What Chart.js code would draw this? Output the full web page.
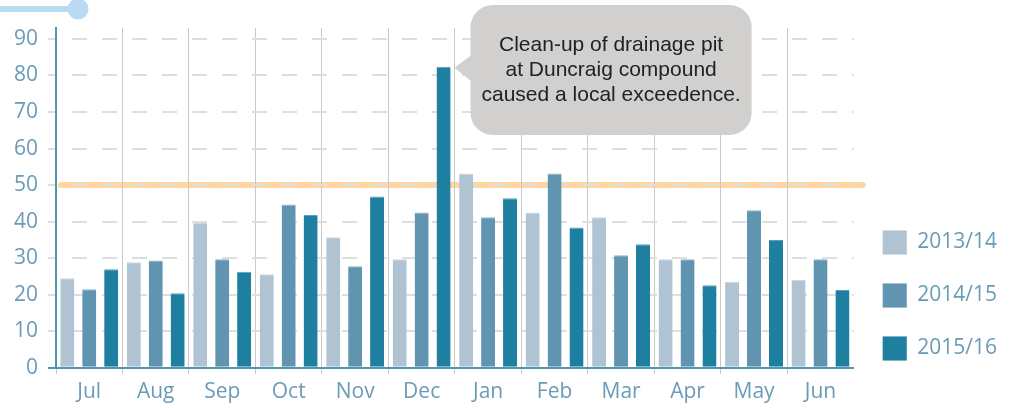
<!DOCTYPE html>
<html>
<head>
<meta charset="utf-8">
<script src="https://cdn.jsdelivr.net/npm/chart.js@4.4.0/dist/chart.umd.min.js"></script>
<style>
  html, body { margin: 0; padding: 0; background: #fff; overflow: hidden; }
  #wrap { width: 1036px; height: 408px; }
</style>
</head>
<body>
<div id="wrap"><canvas id="chart" width="1036" height="408"></canvas></div>
<script>
// monthly values, financial years Jul..Jun
const months = ['Jul', 'Aug', 'Sep', 'Oct', 'Nov', 'Dec', 'Jan', 'Feb', 'Mar', 'Apr', 'May', 'Jun'];
const fy1314 = [24.5, 28.9, 39.6, 25.6, 35.7, 29.7, 53.2, 42.5, 41.2, 29.7, 23.5, 24.0];
const fy1415 = [21.5, 29.4, 29.7, 44.7, 27.8, 42.5, 41.2, 53.2, 30.8, 29.7, 43.1, 29.7];
const fy1516 = [27.0, 20.4, 26.3, 41.8, 46.9, 82.4, 46.4, 38.4, 33.8, 22.6, 35.0, 21.3];
const seriesNames = ['2013/14', '2014/15', '2015/16'];
const limitValue = 50;
const noteIndex = 5; // Dec 2015/16
const noteLines = ['Clean-up of drainage pit', 'at Duncraig compound', 'caused a local exceedence.'];

const axisBlue = '#4f97b0';
const labelBlue = '#6a9bb7';

// threshold band, top-left slider and the callout bubble
const decorPlugin = {
  id: 'decor',
  beforeDraw(chart) {
    const { ctx, chartArea } = chart;
    const yy = chart.scales.y.getPixelForValue(limitValue);
    ctx.save();
    ctx.strokeStyle = '#fdd6a2';
    ctx.lineWidth = 6;
    ctx.lineCap = 'round';
    ctx.beginPath();
    ctx.moveTo(chartArea.left + 5, yy);
    ctx.lineTo(chartArea.right + 9, yy);
    ctx.stroke();

    ctx.strokeStyle = '#b9daf3';
    ctx.lineCap = 'butt';
    ctx.beginPath();
    ctx.moveTo(0, 9);
    ctx.lineTo(74, 9);
    ctx.stroke();
    ctx.fillStyle = '#b9daf3';
    ctx.beginPath();
    ctx.arc(78, 9, 10.5, 0, Math.PI * 2);
    ctx.fill();
    ctx.restore();
  },
  afterDraw(chart) {
    const { ctx } = chart;
    const bar = chart.getDatasetMeta(2).data[noteIndex];
    const tipX = bar.x + bar.width / 2 + 4;
    const tipY = bar.y + 1;
    const left = tipX + 16, top = 5, w = 281, h = 130, r = 22;
    ctx.save();
    ctx.fillStyle = '#d1d0ce';
    ctx.beginPath();
    ctx.moveTo(left + r, top);
    ctx.arcTo(left + w, top, left + w, top + h, r);
    ctx.arcTo(left + w, top + h, left, top + h, r);
    ctx.arcTo(left, top + h, left, top, r);
    ctx.lineTo(left, tipY + 13);
    ctx.lineTo(tipX, tipY);
    ctx.lineTo(left, tipY - 12);
    ctx.arcTo(left, top, left + w, top, r);
    ctx.closePath();
    ctx.fill();

    ctx.fillStyle = '#222';
    ctx.font = '21px "Liberation Sans", Arial, sans-serif';
    ctx.textAlign = 'center';
    ctx.textBaseline = 'middle';
    noteLines.forEach((line, i) => {
      ctx.fillText(line, left + w / 2, 45 + i * 25.3);
    });
    ctx.restore();
  }
};

const barStyle = [
  { fill: '#afc3d3', edge: '#c9d7e3' },
  { fill: '#6094b0', edge: '#8db2c7' },
  { fill: '#1e7fa0', edge: '#5aa0ba' }
];

const chart = new Chart(document.getElementById('chart'), {
  type: 'bar',
  data: {
    labels: months,
    datasets: [fy1314, fy1415, fy1516].map((values, i) => ({
      label: seriesNames[i],
      data: values,
      backgroundColor: barStyle[i].fill,
      borderColor: barStyle[i].edge,
      borderWidth: { top: 1, right: 0, bottom: 0, left: 0 },
      categoryPercentage: 0.99,
      barPercentage: 0.64
    }))
  },
  options: {
    responsive: false,
    animation: false,
    layout: { padding: { top: 28, left: 4, right: 29, bottom: -3 } },
    plugins: {
      tooltip: { enabled: false },
      legend: {
        position: 'right',
        align: 'center',
        title: { display: true, text: ' ', font: { size: 10, lineHeight: 1 }, padding: { top: 142, bottom: 0 } },
        labels: {
          boxWidth: 24,
          boxHeight: 24,
          padding: 29,
          color: labelBlue,
          font: { family: 'Open Sans', size: 21 }
        }
      }
    },
    scales: {
      x: {
        grid: {
          color: ctx => ctx.type === 'tick' ? '#c9c9c9' : 'transparent',
          lineWidth: 1,
          tickLength: 6
        },
        border: { color: axisBlue, width: 2, z: 1 },
        ticks: {
          color: labelBlue,
          padding: 6,
          font: { family: 'Open Sans', size: 21 }
        }
      },
      y: {
        min: 0,
        max: 93,
        grid: {
          color: '#dedede',
          lineWidth: 2,
          tickBorderDash: [],
          tickLength: 8,
          tickColor: ctx => ctx.tick && ctx.tick.value === 0 ? axisBlue : '#dedede'
        },
        border: { color: axisBlue, width: 2, dash: [15, 15], dashOffset: 15 },
        ticks: {
          stepSize: 10,
          includeBounds: false,
          color: labelBlue,
          padding: 10,
          font: { family: 'Open Sans', size: 21 }
        },
        afterBuildTicks: scale => {
          scale.ticks = scale.ticks.filter(t => t.value % 10 === 0);
        }
      }
    }
  },
  plugins: [decorPlugin]
});
</script>
</body>
</html>
